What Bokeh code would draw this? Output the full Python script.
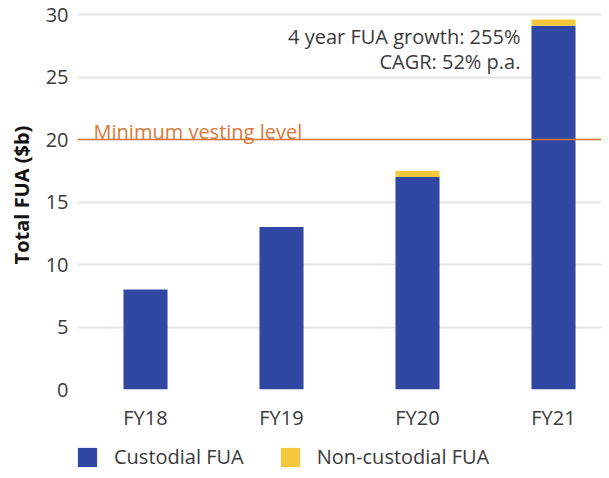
from bokeh.plotting import figure
from bokeh.layouts import column
from bokeh.models import (ColumnDataSource, Range1d, FixedTicker, Span, Label,
                          Legend, LegendItem)
from bokeh.embed import file_html
from bokeh.resources import INLINE

# ---- data ----
categories = ["FY18", "FY19", "FY20", "FY21"]
custodial = [8.0, 13.0, 17.0, 29.1]
non_custodial = [0.0, 0.0, 0.5, 0.5]
series_names = ["Custodial FUA", "Non-custodial FUA"]
y_ticks = [0, 5, 10, 15, 20, 25, 30]
vesting_level = 20
vesting_text = "Minimum vesting level"
note_lines = ["4 year FUA growth: 255%", "CAGR: 52% p.a."]

FONT = "Open Sans"
TXT = "#3a3a3a"
BLUE = "#3048A3"
YELLOW = "#F4C83A"
ORANGE = "#D9793A"
COLORS = [BLUE, YELLOW]

xpos = list(range(len(categories)))
source = ColumnDataSource(data=dict(x=xpos, custodial=custodial,
                                    non_custodial=non_custodial))

p = figure(width=601, height=434, output_backend="svg", toolbar_location=None,
           x_range=Range1d(-0.5, 3.353), y_range=Range1d(0, 31.12),
           min_border_left=77, min_border_right=0, min_border_top=0,
           min_border_bottom=45)
p.outline_line_color = None
p.background_fill_color = "white"
p.border_fill_color = "white"

p.vbar_stack(["custodial", "non_custodial"], x="x", width=0.324,
             source=source, color=COLORS, line_color=None)

# axes
p.xaxis.ticker = FixedTicker(ticks=xpos)
p.xaxis.major_label_overrides = {i: c for i, c in enumerate(categories)}
p.yaxis.ticker = FixedTicker(ticks=y_ticks)
for ax in (p.xaxis[0], p.yaxis[0]):
    ax.axis_line_color = None
    ax.major_tick_line_color = None
    ax.minor_tick_line_color = None
    ax.major_tick_out = 0
    ax.major_tick_in = 0
    ax.major_label_text_font = FONT
    ax.major_label_text_font_size = "20px"
    ax.major_label_text_color = TXT
p.xaxis.major_label_standoff = 14
p.yaxis.major_label_standoff = 9
p.yaxis.axis_label = "Total FUA ($b)"
p.yaxis.axis_label_text_font = FONT
p.yaxis.axis_label_text_font_style = "bold"
p.yaxis.axis_label_text_font_size = "20px"
p.yaxis.axis_label_text_color = "#111111"
p.yaxis.axis_label_standoff = 8

p.xgrid.grid_line_color = None
p.ygrid.grid_line_color = "#e6e6e6"
p.ygrid.grid_line_width = 2

# vesting line
p.add_layout(Span(location=vesting_level, dimension="width",
                  line_color=ORANGE, line_width=1.5))
p.add_layout(Label(x=-0.382, y=20.64, text=vesting_text, text_font=FONT,
                   text_font_size="20px", text_color=ORANGE,
                   text_baseline="alphabetic", text_align="left"))

# growth note
for i, line in enumerate(note_lines):
    p.add_layout(Label(x=2.757, y=28.24 - 2.0 * i, text=line, text_font=FONT,
                       text_font_size="20px", text_color=TXT,
                       text_baseline="alphabetic", text_align="right"))

# ---- legend strip (separate figure below the chart, frames aligned) ----
lg = figure(width=601, height=36, output_backend="svg", toolbar_location=None,
            x_axis_type=None, y_axis_type=None, x_range=Range1d(-0.5, 3.353),
            y_range=Range1d(1000, 1001), min_border=0)
lg.outline_line_color = None
lg.background_fill_color = "white"
lg.border_fill_color = "white"
# legend proxies: same data, lying below this strip's visible range
proxies = lg.vbar_stack(["custodial", "non_custodial"], x="x", width=0.324,
                        source=source, color=COLORS, line_color=None)
legend = Legend(items=[LegendItem(label=n, renderers=[r])
                       for n, r in zip(series_names, proxies)],
                orientation="horizontal", location=(-2, 0),
                margin=0, padding=0, spacing=34,
                glyph_width=24, glyph_height=24, label_standoff=15,
                border_line_color=None, background_fill_alpha=0,
                label_text_font=FONT, label_text_font_size="20px",
                label_text_color=TXT)
lg.add_layout(legend)

layout = column(p, lg, spacing=0)
open("out.html", "w").write(file_html(layout, INLINE))
